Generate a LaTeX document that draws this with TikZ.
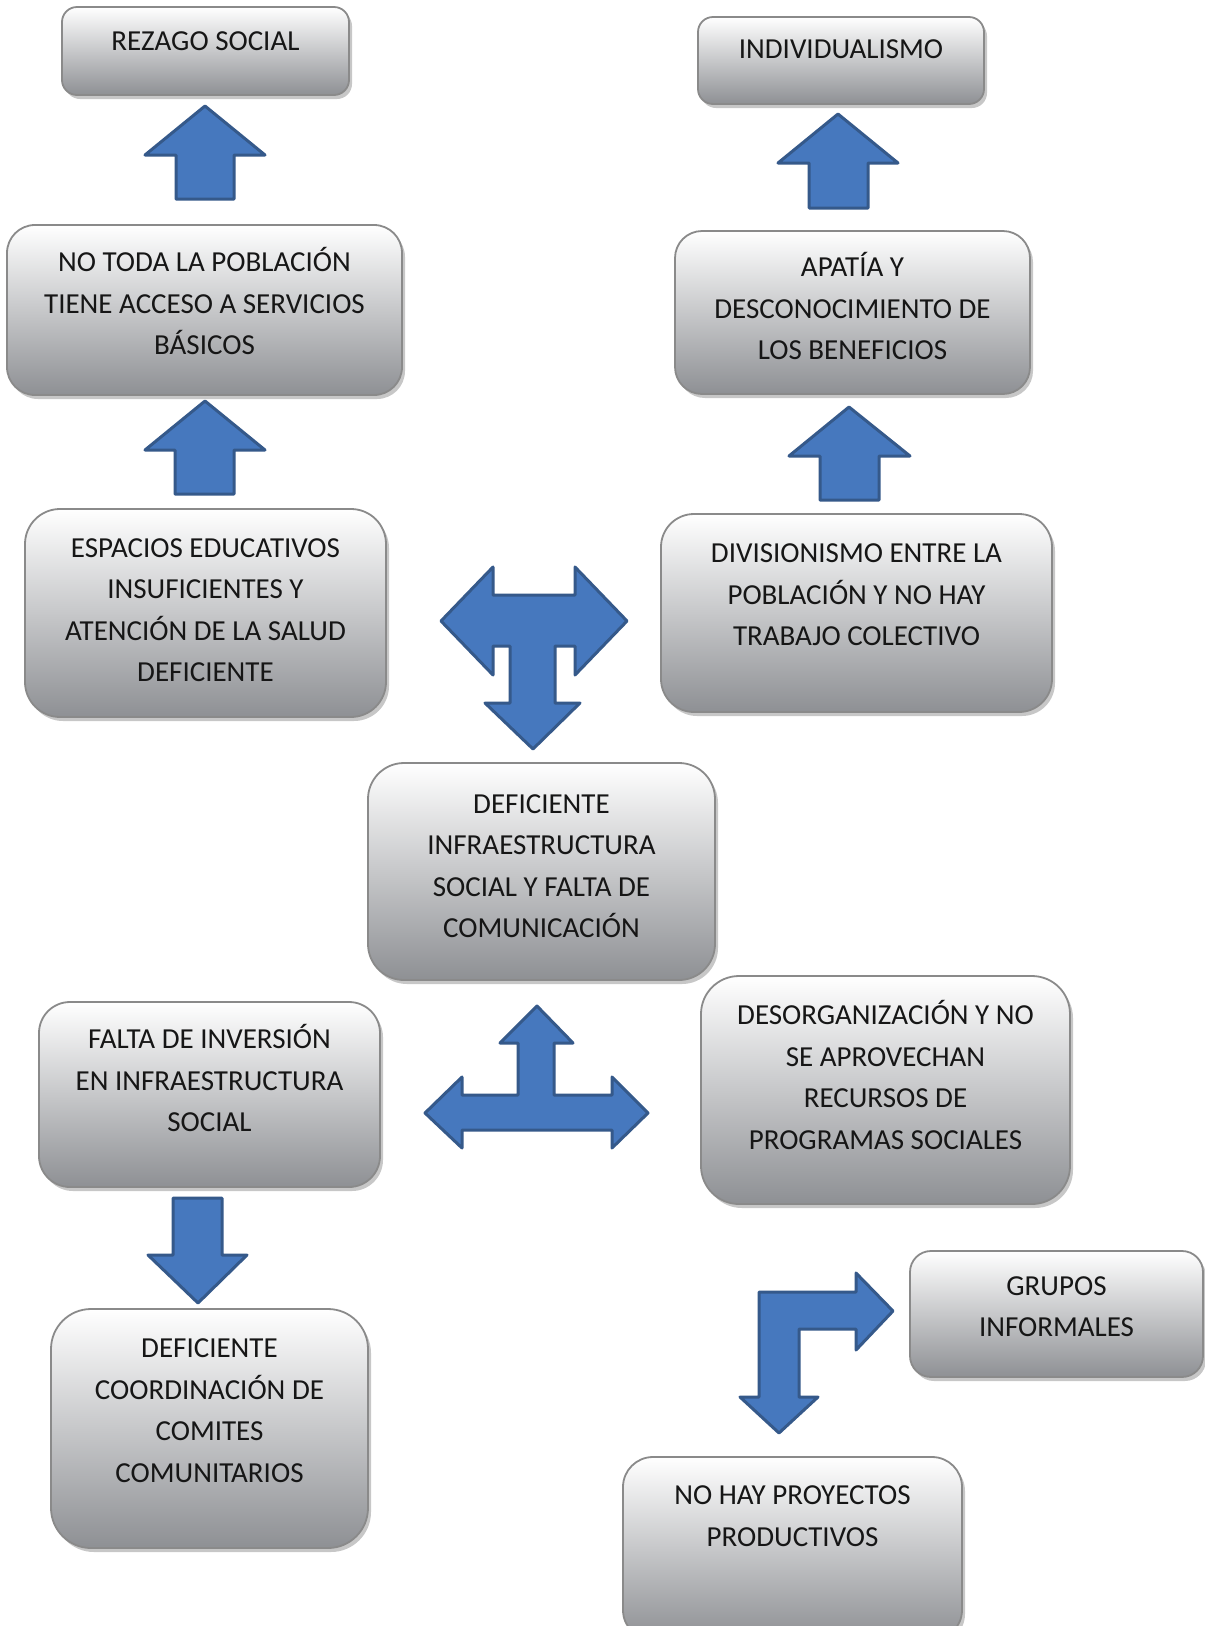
\documentclass[tikz,border=0pt]{standalone}
\usepackage{fontspec}
\setmainfont{Carlito}
\usetikzlibrary{shadows}
\definecolor{arrfill}{HTML}{4678BE}
\definecolor{arrline}{HTML}{35598A}
\definecolor{boxline}{HTML}{8A8A8A}
\definecolor{boxbot}{HTML}{8E9094}
\definecolor{txtcol}{HTML}{161616}
\newcommand\ms{\rule[-10.65pt]{0pt}{40pt}}
\tikzset{
  box/.style={draw=boxline, line width=1.8pt, top color=white, bottom color=boxbot,
    drop shadow={shadow xshift=3pt, shadow yshift=-4pt, fill=black, opacity=0.22},
    inner sep=0pt},
  txt/.style={align=center, inner sep=0pt, text=txtcol, font=\fontsize{29}{41.5}\selectfont},
  blockarrow/.style={fill=arrfill, draw=arrline, line width=3pt, line join=round}
}
\begin{document}
\begin{tikzpicture}[x=1pt,y=-1pt]
\useasboundingbox (0,0) rectangle (1205,1626);
\fill[white] (0,0) rectangle (1205,1626);
\clip (0,0) rectangle (1205,1626);

% boxes
\node[box, minimum width=287pt, minimum height=88pt, rounded corners=15pt] (b1) at (205.5,51) {};
\node[box, minimum width=395pt, minimum height=170pt, rounded corners=28pt] (b2) at (204.5,310) {};
\node[box, minimum width=361pt, minimum height=208pt, rounded corners=35pt] (b3) at (205.5,613) {};
\node[box, minimum width=286pt, minimum height=87pt, rounded corners=15pt] (b4) at (841,60.5) {};
\node[box, minimum width=355pt, minimum height=163pt, rounded corners=27pt] (b5) at (852.5,312.5) {};
\node[box, minimum width=391pt, minimum height=198pt, rounded corners=33pt] (b6) at (856.5,613) {};
\node[box, minimum width=347pt, minimum height=217pt, rounded corners=36pt] (b7) at (541.5,871.5) {};
\node[box, minimum width=341pt, minimum height=185pt, rounded corners=31pt] (b8) at (209.5,1094.5) {};
\node[box, minimum width=369pt, minimum height=228pt, rounded corners=38pt] (b9) at (885.5,1090) {};
\node[box, minimum width=317pt, minimum height=239pt, rounded corners=40pt] (b10) at (209.5,1428.5) {};
\node[box, minimum width=293pt, minimum height=126pt, rounded corners=21pt] (b11) at (1056.5,1314) {};
\node[box, minimum width=339pt, minimum height=183pt, rounded corners=30pt] (b12) at (792.5,1548.5) {};

% texts
\node[txt] (t1) at (205.5,41) {\ms REZAGO SOCIAL};
\node[txt] (t2) at (204.5,304) {\ms NO TODA LA POBLACIÓN\\\ms TIENE ACCESO A SERVICIOS\\\ms BÁSICOS};
\node[txt] (t3) at (205.5,610) {\ms ESPACIOS EDUCATIVOS\\\ms INSUFICIENTES Y\\\ms ATENCIÓN DE LA SALUD\\\ms DEFICIENTE};
\node[txt] (t4) at (841,49) {\ms INDIVIDUALISMO};
\node[txt] (t5) at (852.5,309) {\ms APATÍA Y\\\ms DESCONOCIMIENTO DE\\\ms LOS BENEFICIOS};
\node[txt] (t6) at (856.5,595) {\ms DIVISIONISMO ENTRE LA\\\ms POBLACIÓN Y NO HAY\\\ms TRABAJO COLECTIVO};
\node[txt] (t7) at (541.5,866) {\ms DEFICIENTE\\\ms INFRAESTRUCTURA\\\ms SOCIAL Y FALTA DE\\\ms COMUNICACIÓN};
\node[txt] (t8) at (209.5,1081) {\ms FALTA DE INVERSIÓN\\\ms EN INFRAESTRUCTURA\\\ms SOCIAL};
\node[txt] (t9) at (885.5,1077.5) {\ms DESORGANIZACIÓN Y NO\\\ms SE APROVECHAN\\\ms RECURSOS DE\\\ms PROGRAMAS SOCIALES};
\node[txt] (t10) at (209.5,1410.5) {\ms DEFICIENTE\\\ms COORDINACIÓN DE\\\ms COMITES\\\ms COMUNITARIOS};
\node[txt] (t11) at (1056.5,1306.5) {\ms GRUPOS\\\ms INFORMALES};
\node[txt] (t12) at (792.5,1516) {\ms NO HAY PROYECTOS\\\ms PRODUCTIVOS};

% block arrows
\draw[blockarrow] (205,106) -- (265,155) -- (234,155) -- (234,199) -- (176,199) -- (176,155) -- (145,155) -- cycle;
\draw[blockarrow] (205,401) -- (265,450) -- (234,450) -- (234,494) -- (175,494) -- (175,450) -- (145,450) -- cycle;
\draw[blockarrow] (838,114) -- (898,163) -- (868,163) -- (868,208) -- (809,208) -- (809,163) -- (778,163) -- cycle;
\draw[blockarrow] (849,407) -- (910,456) -- (879,456) -- (879,500) -- (820,500) -- (820,456) -- (789,456) -- cycle;
\draw[blockarrow] (173,1198) -- (222,1198) -- (222,1255) -- (247,1255) -- (198,1303) -- (148,1255) -- (173,1255) -- cycle;
% left-right-down arrow
\draw[blockarrow] (441,621) -- (493,567) -- (493,595) -- (575,595) -- (575,567) -- (627,621)
  -- (575,675) -- (575,646) -- (555,646) -- (555,703) -- (580,703) -- (533,749) -- (485,703)
  -- (510,703) -- (510,646) -- (493,646) -- (493,675) -- cycle;
% left-right-up arrow
\draw[blockarrow] (425,1113) -- (462,1077) -- (462,1095) -- (518,1095) -- (518,1043) -- (500,1043)
  -- (537,1006) -- (573,1043) -- (554,1043) -- (554,1095) -- (612,1095) -- (612,1077) -- (648,1113)
  -- (612,1148) -- (612,1130) -- (462,1130) -- (462,1148) -- cycle;
% bent arrow
\draw[blockarrow] (759,1292) -- (856,1292) -- (856,1273) -- (893,1311) -- (856,1350) -- (856,1329)
  -- (799,1329) -- (799,1397) -- (818,1397) -- (779,1433) -- (740,1397) -- (759,1397) -- cycle;
\end{tikzpicture}
\end{document}
